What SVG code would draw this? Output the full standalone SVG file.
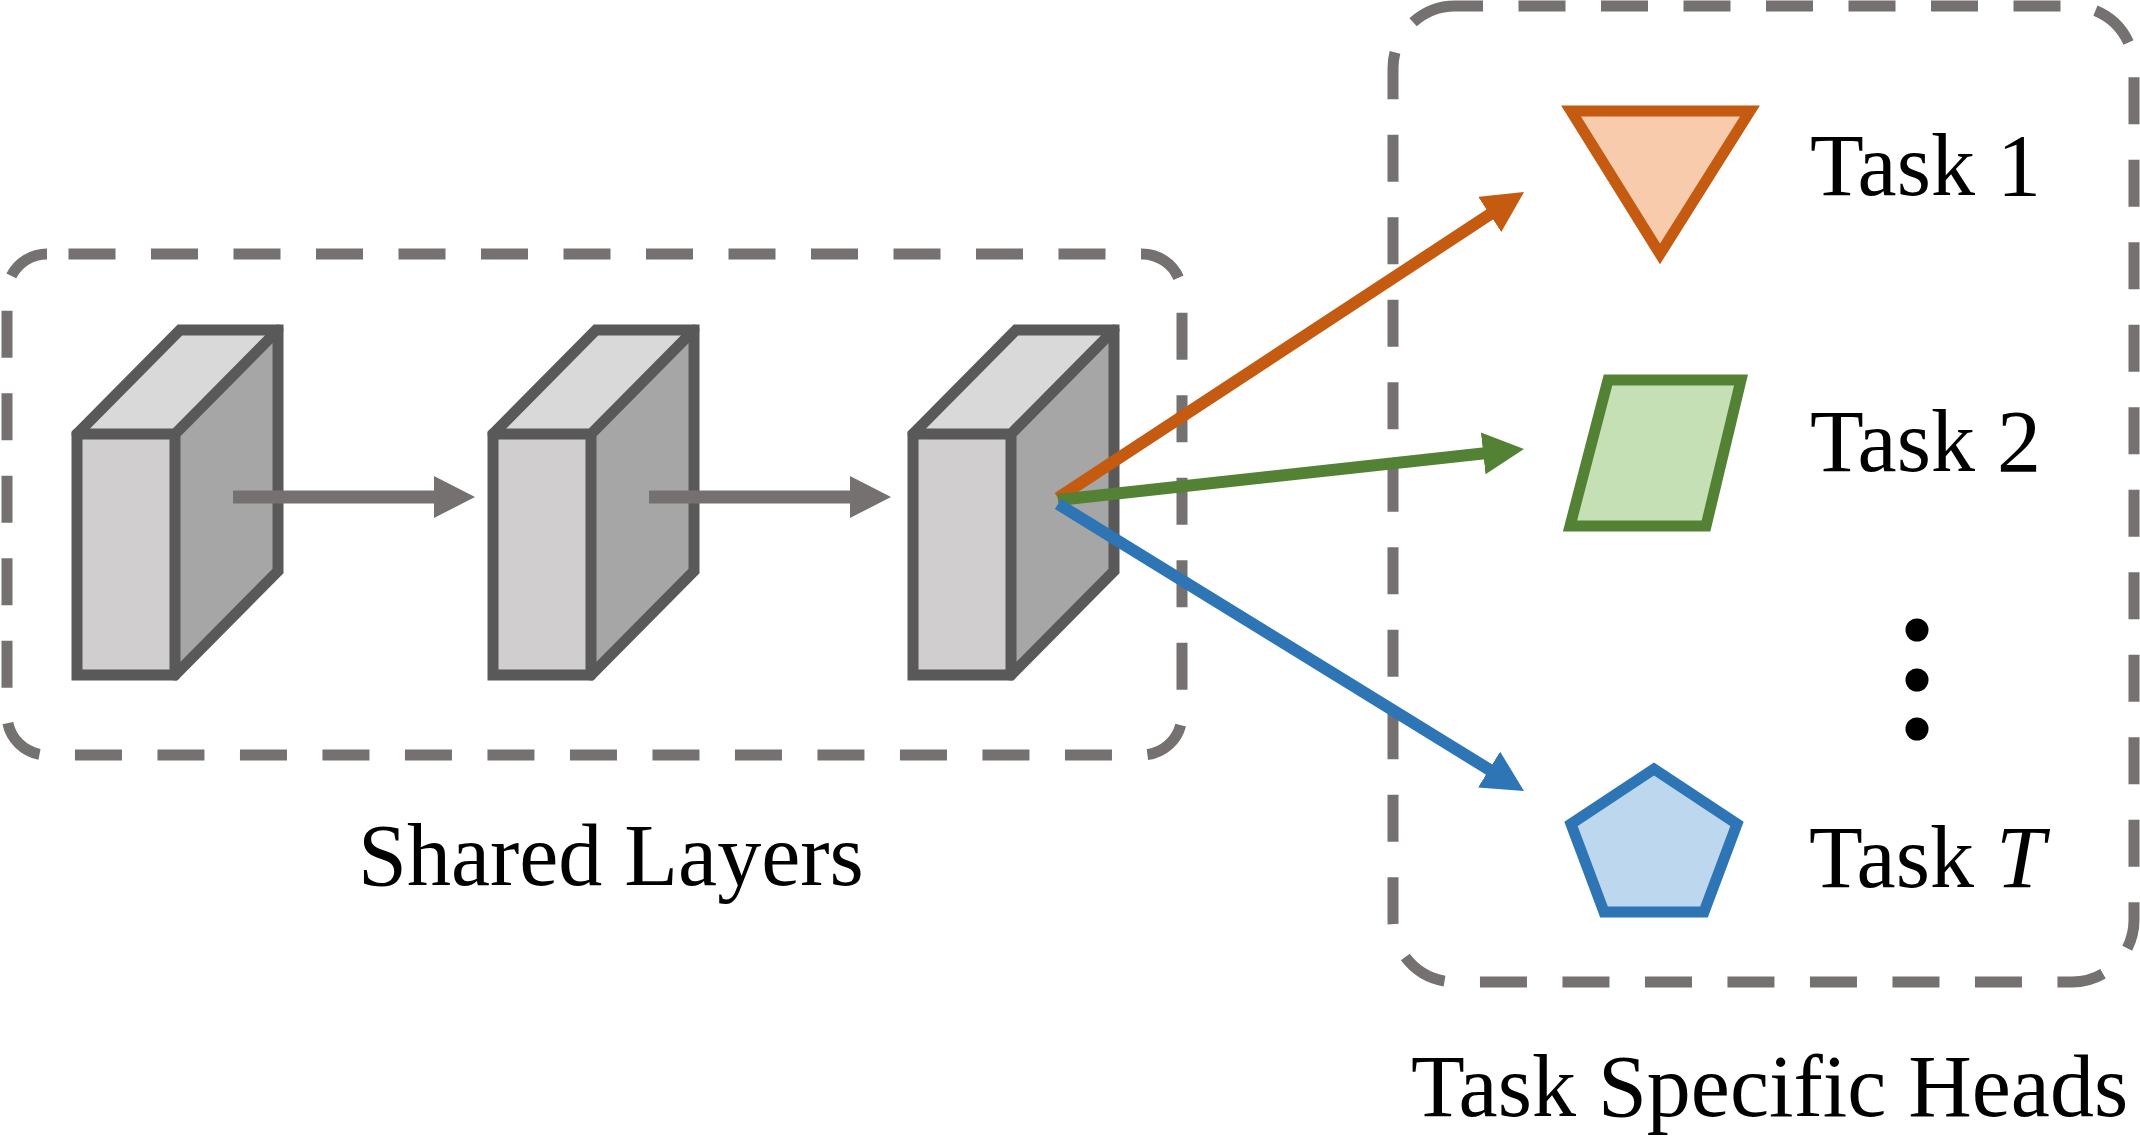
<svg xmlns="http://www.w3.org/2000/svg" width="2140" height="1140" viewBox="0 0 2140 1140">
<style>
.box{fill:none;stroke:#767171;stroke-width:11;stroke-dasharray:47 35.5}
.front{fill:#D0CECE}
.top{fill:#D9D9D9}
.side{fill:#A6A6A6}
.outline{fill:none;stroke:#595959;stroke-width:11;stroke-linejoin:miter}
.edge{fill:none;stroke:#595959;stroke-width:11;stroke-linejoin:miter;stroke-linecap:round}
.lbl{font-family:"Liberation Serif","Times New Roman",serif;font-size:88px;fill:#000}
.conn{fill:none;stroke-linecap:butt}
</style>
<defs>
<marker id="hGray" markerUnits="userSpaceOnUse" markerWidth="42" markerHeight="42" refX="4" refY="21" orient="auto" viewBox="0 0 42 42"><path d="M0,0 L41,21 L0,42 z" fill="#767171"/></marker>
<marker id="hOrange" markerUnits="userSpaceOnUse" markerWidth="42" markerHeight="42" refX="4" refY="21" orient="auto" viewBox="0 0 42 42"><path d="M0,0 L41,21 L0,42 z" fill="#C55A11"/></marker>
<marker id="hGreen" markerUnits="userSpaceOnUse" markerWidth="42" markerHeight="42" refX="4" refY="21" orient="auto" viewBox="0 0 42 42"><path d="M0,0 L41,21 L0,42 z" fill="#548235"/></marker>
<marker id="hBlue" markerUnits="userSpaceOnUse" markerWidth="42" markerHeight="42" refX="4" refY="21" orient="auto" viewBox="0 0 42 42"><path d="M0,0 L41,21 L0,42 z" fill="#2E75B6"/></marker>
<g id="cubeShape">
<rect class="front" x="77" y="434" width="98" height="241"/>
<polygon class="top" points="77,434 175,434 278,330 180,330"/>
<polygon class="side" points="175,434 278,330 278,571 175,675"/>
<path class="edge" d="M77,434 L175,434 L278,330 M175,434 L175,675"/>
<polygon class="outline" points="77,675 77,434 180,330 278,330 278,571 175,675"/>
</g>
</defs>

<g id="shared-layers-box">
<rect class="box" x="7" y="254" width="1175" height="501" rx="40" ry="40" style="stroke-dashoffset:61"/>
</g>
<g id="task-heads-box">
<rect class="box" x="1393" y="6" width="741" height="976" rx="62" ry="62" style="stroke-dashoffset:19"/>
</g>

<g id="layer1"><use href="#cubeShape"/></g>
<g id="layer2"><use href="#cubeShape" transform="translate(416,0)"/></g>
<g id="layer3"><use href="#cubeShape" transform="translate(836,0)"/></g>

<g id="task1">
<polygon points="1571,111 1750,111 1660,254" fill="#F8CBAD" stroke="#C55A11" stroke-width="11" stroke-linejoin="miter"/>
<text class="lbl" x="1810" y="195">Task 1</text>
</g>
<g id="task2">
<polygon points="1608,380 1741,380 1706,526 1570,526" fill="#C5E0B4" stroke="#548235" stroke-width="11" stroke-linejoin="miter"/>
<text class="lbl" x="1810" y="471">Task 2</text>
</g>
<g id="ellipsis">
<circle cx="1917" cy="630" r="11.5" fill="#000"/>
<circle cx="1917" cy="680" r="11.5" fill="#000"/>
<circle cx="1917" cy="729" r="11.5" fill="#000"/>
</g>
<g id="taskT">
<polygon points="1654,769 1737,824 1704,912 1604,912 1571,824" fill="#BDD7EE" stroke="#2E75B6" stroke-width="11" stroke-linejoin="miter"/>
<text class="lbl" x="1809" y="887">Task <tspan font-style="italic">T</tspan></text>
</g>

<g id="connectors">
<line class="conn" x1="233" y1="497" x2="438" y2="497" stroke="#767171" stroke-width="13" marker-end="url(#hGray)"/>
<line class="conn" x1="649" y1="497" x2="854" y2="497" stroke="#767171" stroke-width="13" marker-end="url(#hGray)"/>
<line class="conn" x1="1058" y1="498" x2="1493.1" y2="212.3" stroke="#C55A11" stroke-width="12" marker-end="url(#hOrange)"/>
<line class="conn" x1="1058" y1="500" x2="1487.2" y2="453.0" stroke="#548235" stroke-width="12" marker-end="url(#hGreen)"/>
<line class="conn" x1="1058" y1="504" x2="1492.5" y2="771.6" stroke="#2E75B6" stroke-width="12" marker-end="url(#hBlue)"/>
</g>

<g id="labels">
<text class="lbl" x="358" y="885">Shared Layers</text>
<text class="lbl" x="1411" y="1116">Task Specific Heads</text>
</g>
</svg>
